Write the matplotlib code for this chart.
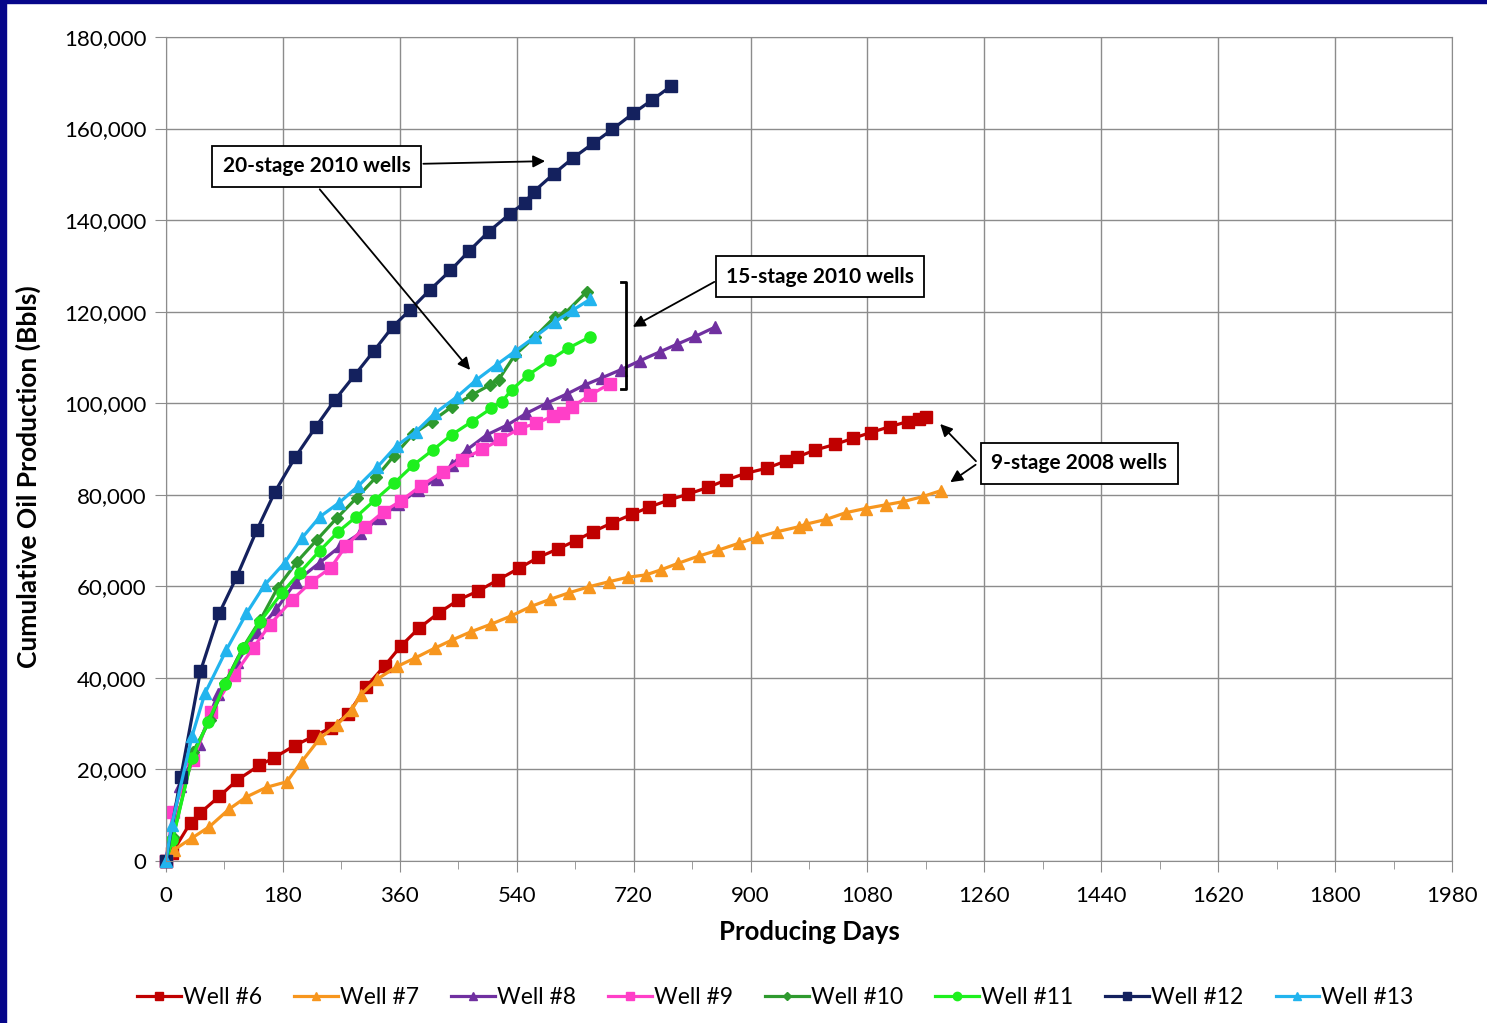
import matplotlib
matplotlib.use("Agg")
import matplotlib.pyplot as plt
from matplotlib.patches import Rectangle
from matplotlib.ticker import MultipleLocator, FuncFormatter

plt.rcParams['font.family'] = ['Lato', 'DejaVu Sans']

# --- data (producing days, cumulative bbl) ---
w6_days = [0, 9, 38, 52, 82, 110, 144, 167, 198, 227, 254, 280, 308, 337, 362, 389, 420, 450,
           481, 511, 543, 573, 604, 631, 657, 686, 717, 744, 775, 803, 834, 862, 893, 925, 955,
           971, 1000, 1030, 1057, 1085, 1115, 1142, 1159, 1170]
w6_oil = [0, 1700, 8400, 10400, 14100, 17700, 20900, 22600, 25200, 27200, 29100, 32000, 38000,
          42700, 47000, 50800, 54200, 57000, 59000, 61400, 63900, 66300, 68200, 70000, 71900,
          73800, 75700, 77300, 78900, 80100, 81600, 83200, 84700, 85800, 87400, 88200, 89800,
          91000, 92300, 93600, 94900, 96000, 96600, 96900]

w7_days = [0, 12, 40, 67, 97, 124, 155, 186, 209, 237, 263, 286, 300, 325, 356, 383, 414, 441,
           470, 500, 531, 562, 592, 621, 651, 682, 712, 739, 762, 788, 820, 850, 882, 910, 940,
           974, 986, 1016, 1047, 1077, 1108, 1135, 1165, 1193]
w7_oil = [0, 2400, 5000, 7500, 11300, 14000, 16100, 17300, 21700, 26800, 29700, 33000, 36300,
          39700, 42500, 44300, 46500, 48300, 50100, 51700, 53500, 55600, 57200, 58600, 59900,
          61000, 62000, 62500, 63600, 65000, 66600, 67900, 69400, 70700, 71900, 73000, 73600,
          74600, 76100, 77000, 77800, 78500, 79600, 80900]

w8_days = [0, 22, 51, 80, 110, 140, 170, 200, 237, 268, 299, 329, 358, 388, 417, 440, 463, 494,
           525, 555, 586, 617, 645, 672, 700, 730, 760, 787, 815, 845]
w8_oil = [0, 16400, 25600, 36500, 43500, 50000, 55000, 61000, 65200, 68700, 71600, 74900, 78000,
          81000, 83500, 86500, 89800, 93100, 95200, 97800, 100000, 102000, 104000, 105600,
          107300, 109300, 111200, 112900, 114600, 116600]

w9_days = [0, 11, 42, 70, 105, 134, 160, 194, 224, 254, 277, 307, 335, 362, 392, 426, 456, 487,
           515, 545, 570, 596, 612, 625, 653, 684]
w9_oil = [0, 10800, 22100, 32600, 40600, 46500, 51600, 57000, 61000, 64100, 68800, 73000, 76300,
          78700, 81900, 85000, 87700, 89900, 92100, 94500, 95600, 97200, 97800, 99200, 101800,
          104300]

w10_days = [0, 11, 42, 68, 91, 118, 145, 172, 202, 232, 263, 294, 324, 351, 381, 409, 440, 471,
            499, 512, 537, 568, 599, 614, 648]
w10_oil = [0, 5300, 23900, 30800, 38800, 46500, 52600, 59700, 65400, 70100, 74900, 79400, 83900,
           88500, 93300, 96000, 99200, 101800, 104000, 105100, 110500, 114500, 118900, 119600,
           124400]

w11_days = [0, 10, 40, 65, 91, 119, 145, 178, 206, 237, 265, 293, 322, 351, 381, 411, 440, 471,
            501, 517, 532, 558, 591, 619, 653]
w11_oil = [0, 4500, 22500, 30400, 38700, 46500, 52300, 58500, 63000, 67800, 71900, 75200, 78900,
           82500, 86500, 89800, 93100, 96000, 98900, 100300, 102900, 106200, 109400, 112000,
           114500]

w12_days = [0, 23, 53, 82, 109, 140, 168, 199, 231, 260, 291, 320, 349, 376, 406, 438, 467, 497,
            529, 552, 566, 597, 626, 658, 687, 719, 748, 778]
w12_oil = [0, 18400, 41400, 54100, 62100, 72300, 80700, 88200, 94900, 100700, 106200, 111400,
           116700, 120400, 124700, 129000, 133300, 137500, 141300, 143800, 146200, 150100,
           153500, 156800, 159800, 163300, 166200, 169300]

w13_days = [0, 9, 40, 60, 93, 124, 152, 183, 209, 237, 267, 296, 325, 355, 385, 414, 448, 478,
            509, 537, 568, 599, 627, 653]
w13_oil = [0, 7900, 27200, 36600, 46100, 54100, 60300, 65200, 70500, 75200, 78300, 81900, 86000,
           90700, 93800, 97800, 101400, 105100, 108400, 111300, 114500, 117800, 120400, 122700]

wells = [
    ("Well #6", w6_days, w6_oil, "#C00000", "s", 8),
    ("Well #7", w7_days, w7_oil, "#F7961E", "^", 8),
    ("Well #8", w8_days, w8_oil, "#7030A0", "^", 8),
    ("Well #9", w9_days, w9_oil, "#FF3FC8", "s", 8),
    ("Well #10", w10_days, w10_oil, "#2E9A2E", "D", 6),
    ("Well #11", w11_days, w11_oil, "#1EF01E", "o", 8),
    ("Well #12", w12_days, w12_oil, "#14215E", "s", 8),
    ("Well #13", w13_days, w13_oil, "#22B4EE", "^", 8),
]

fig = plt.figure(figsize=(14.87, 10.23), dpi=100)
ax = fig.add_axes([0.1116, 0.1584, 0.8649, 0.8054])

for name, d, q, c, m, ms in wells:
    ax.plot(d, q, color=c, marker=m, markersize=ms, linewidth=2.3,
            markeredgecolor=c, label=name, clip_on=False)

ax.set_xlim(0, 1980)
ax.set_ylim(0, 180000)
ax.xaxis.set_major_locator(MultipleLocator(180))
ax.xaxis.set_minor_locator(MultipleLocator(90))
ax.yaxis.set_major_locator(MultipleLocator(20000))
ax.yaxis.set_major_formatter(FuncFormatter(lambda v, p: f"{int(v):,}"))
ax.grid(True, which='major', color='#8c8c8c', linewidth=1.0)
ax.set_axisbelow(True)
for s in ax.spines.values():
    s.set_color('#8c8c8c')
ax.tick_params(axis='both', which='major', length=8, color='#8c8c8c',
               labelsize=16, pad=6)
ax.tick_params(axis='x', which='minor', length=6, color='#8c8c8c')
ax.tick_params(axis='x', which='major', pad=10)

ax.set_xlabel("Producing Days", fontsize=18.5, fontweight='bold', labelpad=10)
ax.set_ylabel("Cumulative Oil Production (Bbls)", fontsize=19, fontweight='bold')
ax.yaxis.set_label_coords(-0.097, 0.467)

box = dict(boxstyle='square,pad=0.5', facecolor='white', edgecolor='black', linewidth=1.3)
arr = dict(arrowstyle='-|>', color='black', linewidth=1.3, mutation_scale=18)

# 20-stage annotation
ax.text(232, 151800, "20-stage 2010 wells", fontsize=15, fontweight='bold',
        ha='center', va='center', bbox=box, zorder=6)
ax.annotate("", xy=(588, 152900), xytext=(392, 152300), arrowprops=arr, zorder=5)
ax.annotate("", xy=(471, 106800), xytext=(234, 147200), arrowprops=arr, zorder=5)

# 15-stage annotation with bracket
ax.text(1007, 127600, "15-stage 2010 wells", fontsize=15, fontweight='bold',
        ha='center', va='center', bbox=box, zorder=6)
ax.annotate("", xy=(715, 116400), xytext=(848, 126800), arrowprops=arr, zorder=5)
ax.plot([700, 708, 708, 700], [126500, 126500, 103100, 103100], color='black',
        linewidth=2.0, zorder=5)

# 9-stage annotation
ax.text(1406, 86900, "9-stage 2008 wells", fontsize=15, fontweight='bold',
        ha='center', va='center', bbox=box, zorder=6)
ax.annotate("", xy=(1189, 95900), xytext=(1250, 86900), arrowprops=arr, zorder=5)
ax.annotate("", xy=(1204, 82400), xytext=(1250, 86900), arrowprops=arr, zorder=5)

ax.legend(loc='upper center', bbox_to_anchor=(0.474, -0.128), ncol=8, frameon=False,
          fontsize=16.5, handlelength=1.9, handletextpad=0.1, columnspacing=1.4,
          markerscale=0.75)

# slide border (left and top edges)
fig.patches.append(Rectangle((0, 0), 6 / 1487, 1, transform=fig.transFigure,
                             color='#06068A', zorder=10))
fig.patches.append(Rectangle((0, 1 - 3 / 1023), 1, 3 / 1023, transform=fig.transFigure,
                             color='#06068A', zorder=10))

fig.savefig("out.png", dpi=100)
